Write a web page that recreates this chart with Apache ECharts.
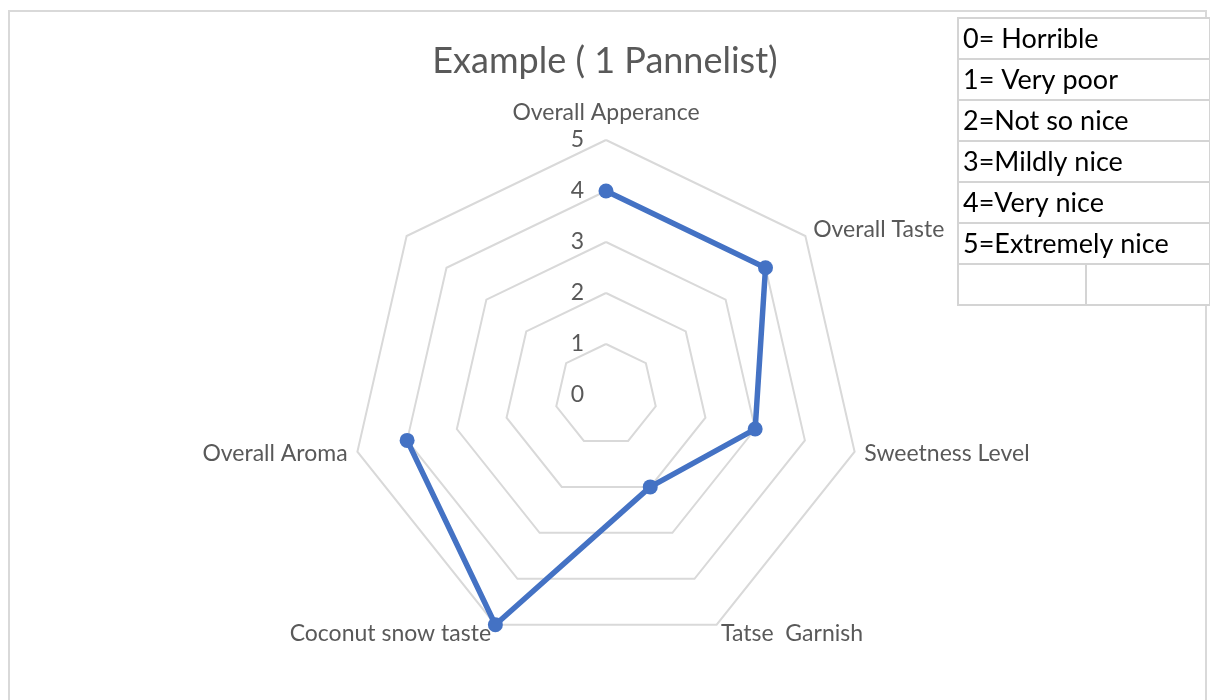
<!DOCTYPE html>
<html>
<head>
<meta charset="utf-8">
<script src="https://cdn.jsdelivr.net/npm/echarts@6/dist/echarts.min.js"></script>
<style>
  html, body { margin: 0; padding: 0; background: #fff; }
  #chart { width: 1210px; height: 700px; }
</style>
</head>
<body>
<div id="chart"></div>
<script>
// data
const categories = ['Overall Apperance', 'Overall Taste', 'Sweetness Level', 'Tatse  Garnish', 'Coconut snow taste', 'Overall Aroma', ''];
const scores = [4, 4, 3, 2, 5, 4, '-'];
const scaleMin = 0;
const scaleMax = 5;
const scaleLegend = ['0= Horrible', '1= Very poor', '2=Not so nice', '3=Mildly nice', '4=Very nice', '5=Extremely nice'];

const cx = 606, cy = 395, R = 255;
const font = 'Lato, "Open Sans", sans-serif';
const grey = '#595959';
const lblSize = 23;

// echarts radar runs counter-clockwise, excel clockwise -> keep first, reverse the rest
const indicators = [categories[0]].concat(categories.slice(1).reverse())
  .map(n => ({ name: n, min: scaleMin, max: scaleMax }));

// scale table top right
const tX = 958, tY = 18, rowH = 41, tW = 252;
const table = [];
scaleLegend.concat(['']).forEach((txt, i) => {
  table.push({
    type: 'rect', z: 10,
    shape: { x: tX, y: tY + i * rowH, width: tW, height: rowH },
    style: { fill: '#fff', stroke: '#d4d4d4', lineWidth: 2 }
  });
  table.push({
    type: 'text', z: 11, x: tX + 5, y: tY + i * rowH + rowH / 2 + 1,
    style: { text: txt, fill: '#000', fontSize: 27, fontFamily: font, verticalAlign: 'middle', textVerticalAlign: 'middle' }
  });
});
table.push({
  type: 'line', z: 12,
  shape: { x1: 1086, y1: tY + 6 * rowH, x2: 1086, y2: tY + 7 * rowH },
  style: { stroke: '#d4d4d4', lineWidth: 2 }
});

const chart = echarts.init(document.getElementById('chart'));
chart.setOption({
  animation: false,
  title: {
    text: 'Example ( 1 Pannelist)',
    left: 'center',
    top: 38,
    textStyle: { color: grey, fontSize: 36, fontWeight: 'normal', fontFamily: font }
  },
  graphic: [{
    type: 'rect', z: -1,
    shape: { x: 9, y: 11, width: 1197, height: 720 },
    style: { fill: 'none', stroke: '#d9d9d9', lineWidth: 2 }
  }].concat(table),
  radar: {
    center: [cx, cy],
    radius: R,
    startAngle: 90,
    shape: 'polygon',
    splitNumber: 5,
    indicator: indicators,
    nameGap: 10,
    axisName: {
      color: grey, fontSize: lblSize, fontFamily: font,
      formatter: n => n === categories[0] ? '{top|' + n + '}' : n,
      rich: { top: { color: grey, fontSize: lblSize, fontFamily: font, padding: [0, 0, 6, 0] } }
    },
    axisLine: { show: false },
    splitLine: { lineStyle: { color: '#d9d9d9', width: 2 } },
    splitArea: { show: false }
  },
  // hidden grid just for the 0..5 tick labels on the top spoke
  grid: { left: cx - 6, top: cy - R, height: R, width: 10 },
  xAxis: { type: 'value', show: false },
  yAxis: {
    type: 'value', min: scaleMin, max: scaleMax, interval: 1,
    axisLine: { show: false }, axisTick: { show: false }, splitLine: { show: false },
    axisLabel: { color: grey, fontSize: lblSize, fontFamily: font, margin: 16 }
  },
  polar: { center: [cx, cy], radius: R },
  angleAxis: {
    type: 'category', data: categories, startAngle: 90, clockwise: true,
    boundaryGap: false, show: false
  },
  radiusAxis: { min: scaleMin, max: scaleMax, show: false },
  series: [{
    type: 'line',
    coordinateSystem: 'polar',
    data: scores,
    connectNulls: false,
    clip: false,
    symbol: 'circle',
    symbolSize: 15,
    itemStyle: { color: '#4472c4' },
    lineStyle: { color: '#4472c4', width: 5.5 }
  }]
});
</script>
</body>
</html>
